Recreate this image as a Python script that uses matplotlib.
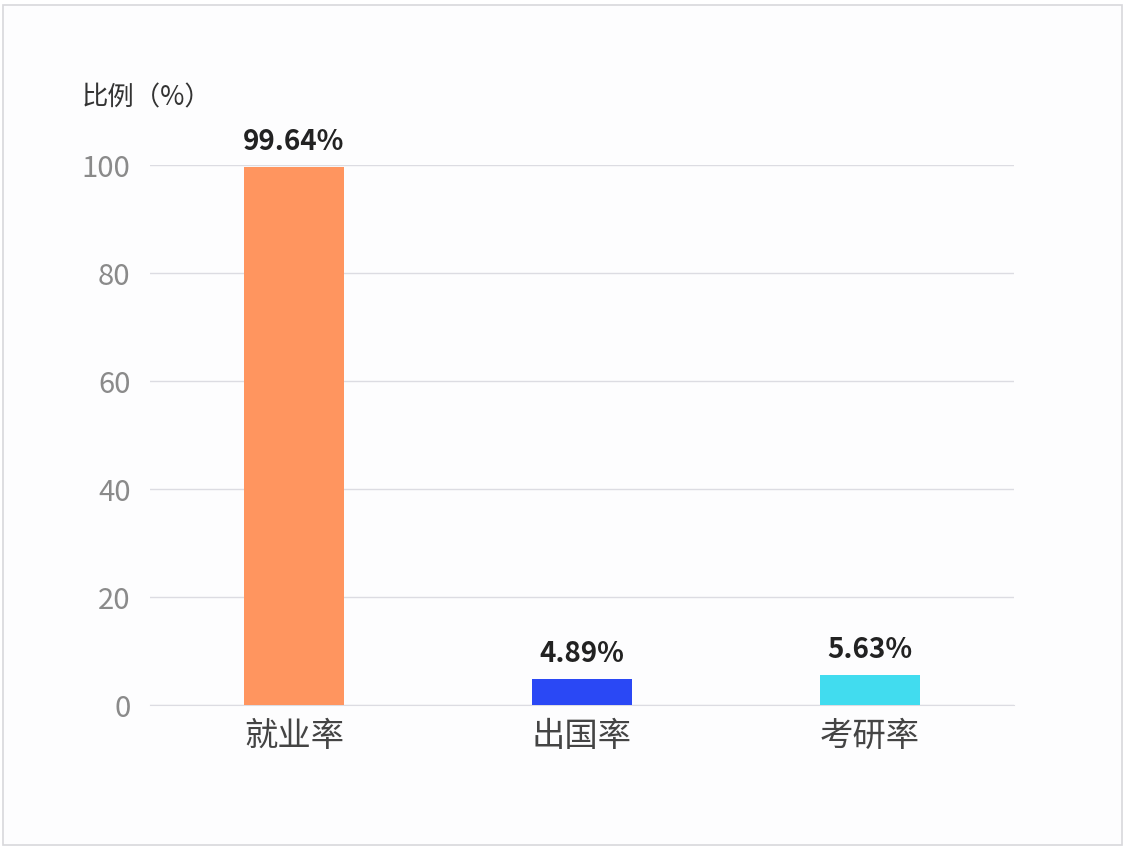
import numpy as np
import matplotlib.pyplot as plt
from matplotlib.patches import FancyBboxPatch

plt.rcParams['font.family'] = ['Noto Sans CJK SC', 'DejaVu Sans']
plt.rcParams['axes.unicode_minus'] = False

# data
categories = ['就业率', '出国率', '考研率']
values = [99.64, 4.89, 5.63]
value_labels = ['99.64%', '4.89%', '5.63%']
colors = ['#FF955F', '#2A48F5', '#41DCEF']
y_ticks = [0, 20, 40, 60, 80, 100]

fig = plt.figure(figsize=(11.3, 8.48), dpi=100)
fig.patch.set_facecolor('white')

# light frame around the picture
frame = FancyBboxPatch((0.003, 0.004), 0.990, 0.990,
                       boxstyle='square,pad=0', transform=fig.transFigure,
                       facecolor='#FDFDFE', edgecolor='#D8D8DC', linewidth=1.2,
                       zorder=-10)
fig.patches.append(frame)

ax = fig.add_axes([0.1327, 0.1686, 0.7646, 0.6368])
ax.set_facecolor('none')

x = np.arange(len(categories))
ax.bar(x, values, width=0.347, color=colors, zorder=3)

for xi, v, lab in zip(x, values, value_labels):
    ax.text(xi, v + 2.0, lab, ha='center', va='bottom', fontsize=20,
            fontweight='bold', color='#222222', clip_on=False)

ax.set_xlim(-0.5, 2.5)
ax.set_ylim(0, 100)
ax.set_yticks(y_ticks)
ax.set_xticks(x)
ax.set_xticklabels(categories, fontsize=24, color='#444444')
ax.tick_params(axis='y', labelsize=21, labelcolor='#8A8A8A', length=0, pad=14)
ax.tick_params(axis='x', length=0, pad=10)

ax.grid(axis='y', color='#DCDCE2', linewidth=1.0, zorder=0)
for s in ['top', 'right', 'left']:
    ax.spines[s].set_visible(False)
ax.spines['bottom'].set_color('#DCDCE2')

fig.text(0.072, 0.884, '比例（%）', fontsize=19, color='#333333',
         ha='left', va='center')

plt.savefig('out.png', dpi=100)
